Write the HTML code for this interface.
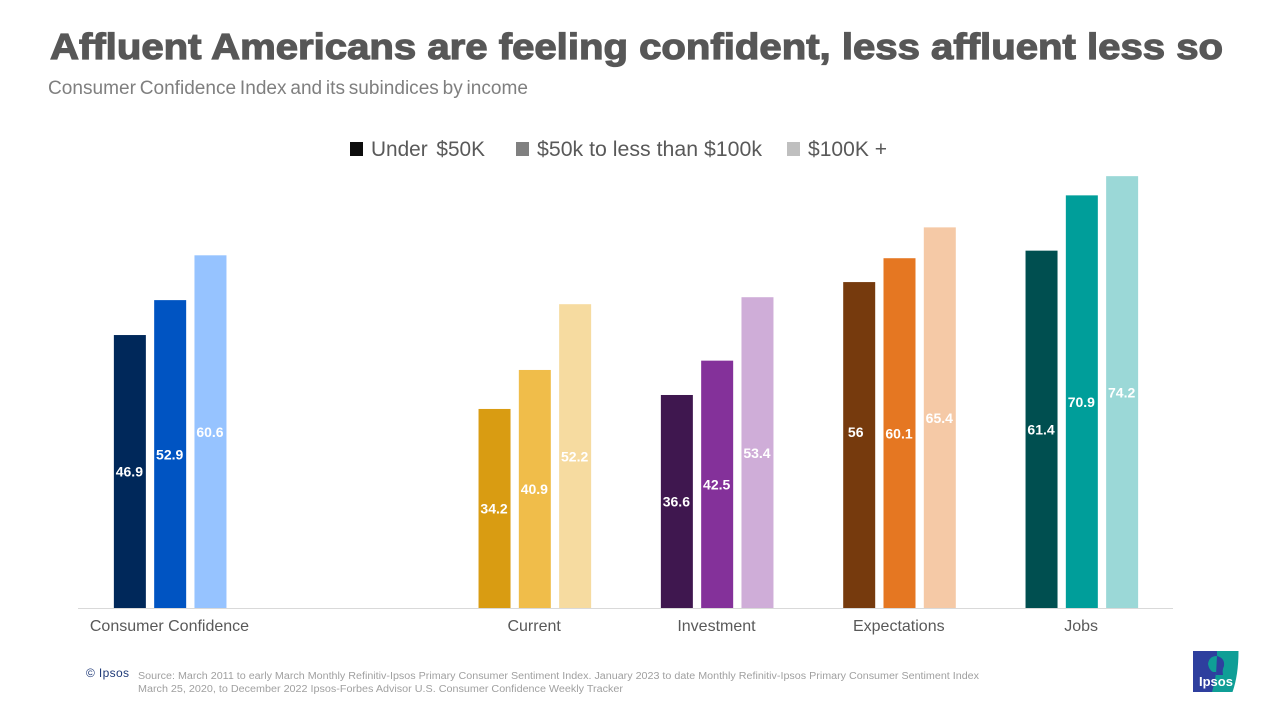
<!DOCTYPE html>
<html lang="en">
<head>
<meta charset="utf-8">
<title>Affluent Americans are feeling confident</title>
<style>
  html, body { margin: 0; padding: 0; background: #fff; }
  body { width: 1280px; height: 720px; overflow: hidden; }
  svg { display: block; font-family: "Liberation Sans", Arial, sans-serif; }
</style>
</head>
<body>
<svg id="chart" width="1280" height="720" viewBox="0 0 1280 720" xmlns="http://www.w3.org/2000/svg">
  <rect x="0" y="0" width="1280" height="720" fill="#ffffff"/>
  <text x="50" y="59" font-size="36" font-weight="700" fill="#575757" stroke="#575757" stroke-width="1.2" textLength="1173" lengthAdjust="spacingAndGlyphs">Affluent Americans are feeling confident, less affluent less so</text>
  <text x="48" y="94" font-size="19" word-spacing="-1.5" fill="#7f7f7f" textLength="480" lengthAdjust="spacingAndGlyphs">Consumer Confidence Index and its subindices by income</text>

  <g font-size="21" fill="#595959">
    <rect x="350" y="142" width="13" height="14" fill="#0d0d0d"/>
    <text x="371" y="156" word-spacing="3" textLength="114" lengthAdjust="spacingAndGlyphs">Under $50K</text>
    <rect x="516" y="142" width="13" height="14" fill="#808080"/>
    <text x="537" y="156" textLength="225" lengthAdjust="spacingAndGlyphs">$50k to less than $100k</text>
    <rect x="787" y="142" width="13" height="14" fill="#bfbfbf"/>
    <text x="808" y="156" textLength="79" lengthAdjust="spacingAndGlyphs">$100K +</text>
  </g>

  <g id="bars"></g>
  <line x1="78" y1="608.5" x2="1173" y2="608.5" stroke="#d9d9d9" stroke-width="1"/>
  <g id="value-labels"></g>
  <g id="category-labels"></g>

  <text x="86" y="677" font-size="12" fill="#1f3a78" textLength="43" lengthAdjust="spacing">© Ipsos</text>
  <text x="138" y="679" font-size="10" fill="#a0a0a0" textLength="841" lengthAdjust="spacingAndGlyphs">Source: March 2011 to early March Monthly Refinitiv-Ipsos Primary Consumer Sentiment Index. January 2023 to date Monthly Refinitiv-Ipsos Primary Consumer Sentiment Index</text>
  <text x="138" y="692" font-size="10" fill="#a0a0a0" textLength="485" lengthAdjust="spacingAndGlyphs">March 25, 2020, to December 2022 Ipsos-Forbes Advisor U.S. Consumer Confidence Weekly Tracker</text>

  <g>
    <path d="M1215 651 H1238.5 Q1238.5 675 1232.5 692 H1211 Z" fill="#0f9e96"/>
    <path d="M1193 651 H1217 Q1218 672 1212 692 H1193 Z" fill="#2e3f9e"/>
    <path d="M1217 656 Q1209 656 1208 664 Q1209 670 1213 672 L1217 672 Z" fill="#0f9e96"/>
    <path d="M1217 656 Q1225 658 1224 666 Q1222 670 1223 675 L1216 675 Z" fill="#2e3f9e"/>
    <text x="1199" y="686" font-size="13" font-weight="700" fill="#ffffff">Ipsos</text>
  </g>
</svg>

<script>
const categories = ["Consumer Confidence", "", "Current", "Investment", "Expectations", "Jobs"];
const under50k = [46.9, null, 34.2, 36.6, 56, 61.4];
const from50kTo100k = [52.9, null, 40.9, 42.5, 60.1, 70.9];
const over100k = [60.6, null, 52.2, 53.4, 65.4, 74.2];
const seriesNames = ["under-50k", "50k-to-100k", "100k-plus"];
const seriesValues = [under50k, from50kTo100k, over100k];
const palette = [
  ["#00285a", "#0054c2", "#96c3ff"],
  [],
  ["#d99c12", "#f0bd4a", "#f6dba0"],
  ["#3f174f", "#84319a", "#cfadd8"],
  ["#763a0d", "#e57722", "#f5c9a6"],
  ["#004f50", "#009e9a", "#9bd8d7"]
];

const NS = "http://www.w3.org/2000/svg";
const bandLeft = 79;
const bandRight = 1173;
const baselineY = 608;
const pixelsPerUnit = 5.82;
const barWidth = 32;
const barStep = 40.3;

function xScale(categoryIndex) {
  return bandLeft + (categoryIndex + 0.5) * (bandRight - bandLeft) / categories.length;
}
function yScale(value) {
  return baselineY - value * pixelsPerUnit;
}

const barsGroup = document.getElementById("bars");
const valueGroup = document.getElementById("value-labels");
const categoryGroup = document.getElementById("category-labels");

categories.forEach(function (category, c) {
  const slug = category.toLowerCase().replace(/\s+/g, "-");
  if (category) {
    const label = document.createElementNS(NS, "text");
    
    
    label.setAttribute("x", xScale(c) - 0.7);
    label.setAttribute("y", 631);
    label.setAttribute("text-anchor", "middle");
    label.setAttribute("font-size", "16");
    label.setAttribute("fill", "#595959");
    label.textContent = category;
    categoryGroup.appendChild(label);
  }
  seriesValues.forEach(function (series, s) {
    const value = series[c];
    if (value === null) return;
    const centerX = xScale(c) + (s - 1) * barStep;
    const top = yScale(value);

    const bar = document.createElementNS(NS, "rect");
    
    
    bar.setAttribute("x", centerX - barWidth / 2);
    bar.setAttribute("y", top);
    bar.setAttribute("width", barWidth);
    bar.setAttribute("height", baselineY - top);
    bar.setAttribute("fill", palette[c][s]);
    barsGroup.appendChild(bar);

    // The first Expectations label sits off-centre in the reference.
    const movedLabel = c === 4 && s === 0;
    const text = document.createElementNS(NS, "text");
    
    
    text.setAttribute("x", centerX - 0.5 + (movedLabel ? -3 : 0));
    text.setAttribute("y", (top + baselineY) / 2 + 5.2 + (movedLabel ? -13 : 0));
    text.setAttribute("text-anchor", "middle");
    text.setAttribute("font-size", "14");
    text.setAttribute("font-weight", "700");
    text.setAttribute("fill", "#ffffff");
    text.textContent = String(value);
    valueGroup.appendChild(text);
  });
});
</script>
</body>
</html>
